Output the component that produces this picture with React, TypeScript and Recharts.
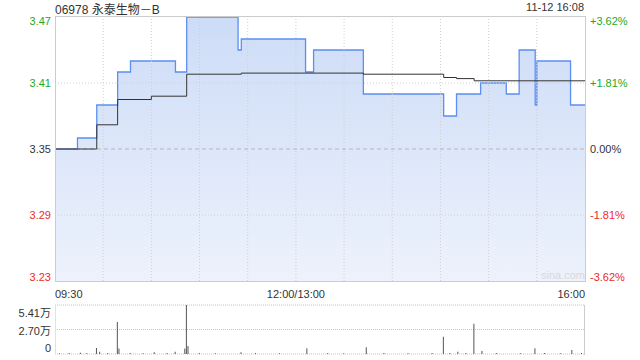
import React from "react";
import { ComposedChart, Area, Line, Bar, XAxis, YAxis, ReferenceLine, CartesianGrid } from "recharts";

// minutes since 09:30 (lunch removed), 330 = 16:00
const priceMinutes = [0, 14, 26, 39, 47, 75, 82, 114, 116, 156, 161, 192, 242, 250, 265, 281, 289, 299, 300, 321, 330];
const prices = [3.35, 3.36, 3.39, 3.42, 3.43, 3.42, 3.47, 3.44, 3.45, 3.42, 3.44, 3.40, 3.38, 3.40, 3.41, 3.40, 3.44, 3.39, 3.43, 3.39, 3.39];

const avgMinutes = [0, 26, 39, 60, 82, 116, 192, 242, 250, 261, 330];
const avgPrices = [3.35, 3.372, 3.395, 3.398, 3.418, 3.419, 3.418, 3.415, 3.414, 3.412, 3.412];

// volume in 万
const volMinutes = [3, 9, 16, 20, 26, 28, 33, 39, 40, 47, 55, 62, 70, 75, 81, 82, 83, 90, 100, 116, 125, 140, 157, 170, 180, 194, 205, 220, 235, 242, 246, 251, 256, 261, 266, 275, 290, 299, 305, 315, 322, 328];
const volValues = [0.08, 0.1, 0.15, 0.08, 0.66, 0.25, 0.1, 3.53, 0.6, 0.1, 0.08, 0.2, 0.1, 0.25, 0.6, 5.41, 0.88, 0.1, 0.08, 0.2, 0.1, 0.08, 0.63, 0.1, 0.08, 0.75, 0.1, 0.08, 0.1, 1.91, 0.1, 0.25, 0.1, 3.35, 0.33, 0.1, 0.08, 0.63, 0.1, 0.08, 0.44, 0.1];

const priceTicks = [3.23, 3.29, 3.35, 3.41, 3.47];
const pctLabels = ["-3.62%", "-1.81%", "0.00%", "+1.81%", "+3.62%"];
const timeTicks = [0, 150, 330];
const timeLabels = ["09:30", "12:00/13:00", "16:00"];
const gridMinutes = [30, 60, 90, 120, 150, 180, 210, 240, 270, 300];
const volTicks = [0, 2.7, 5.41];
const volLabels = ["0", "2.70万", "5.41万"];

const prevClose = 3.35;
const FONT = "Arial, 'Liberation Sans', 'Noto Sans CJK SC', sans-serif";
const GREEN = "#1ea81e";
const RED = "#ee2a2a";

const priceData = priceMinutes.map((m, i) => ({ m, p: prices[i] }));
const avgData = avgMinutes.map((m, i) => ({ m, a: avgPrices[i] }));
const volData = volMinutes.map((m, i) => ({ m, v: volValues[i] }));

const colorFor = (v: number) => (v > prevClose ? GREEN : v < prevClose ? RED : "#333");
const clampDy = (v: number, lo: number, hi: number) => (v === hi ? 4 : v === lo ? -4 : 0);

function PriceTick({ x, y, payload }: any) {
  const v = payload.value;
  return (
    <text x={x} y={y + clampDy(v, 3.23, 3.47)} dy={4} textAnchor="end" fontSize={11} fill={colorFor(v)} fontFamily={FONT}>
      {v.toFixed(2)}
    </text>
  );
}

function PctTick({ x, y, payload }: any) {
  const v = payload.value;
  const idx = priceTicks.indexOf(v);
  return (
    <text x={x} y={y + clampDy(v, 3.23, 3.47)} dy={4} textAnchor="start" fontSize={11} fill={colorFor(v)} fontFamily={FONT}>
      {pctLabels[idx]}
    </text>
  );
}

function TimeTick({ x, y, payload }: any) {
  const idx = timeTicks.indexOf(payload.value);
  const anchor = idx === 0 ? "start" : idx === timeTicks.length - 1 ? "end" : "middle";
  return (
    <text x={x} y={y + 9} textAnchor={anchor} fontSize={11} fill="#333" fontFamily={FONT}>
      {timeLabels[idx]}
    </text>
  );
}

function VolTick({ x, y, payload }: any) {
  const idx = volTicks.indexOf(payload.value);
  const dy = idx === 0 ? -6 : idx === volTicks.length - 1 ? 8 : 1;
  return (
    <text x={x} y={y + dy} dy={4} textAnchor="end" fontSize={11} fill="#333" fontFamily={FONT}>
      {volLabels[idx]}
    </text>
  );
}

export default function App() {
  return (
    <div style={{ position: "absolute", left: 0, top: 0, width: 640, height: 360, background: "#fff", fontFamily: FONT }}>
      <div style={{ position: "absolute", left: 55, top: 0, fontSize: 12, color: "#333" }}>06978 永泰生物－B</div>
      <div style={{ position: "absolute", right: 56, top: 1, fontSize: 11, color: "#333" }}>11-12 16:08</div>

      <div style={{ position: "absolute", left: 0, top: 0 }}>
        <ComposedChart width={640} height={305} margin={{ top: 17, right: 0, left: 0, bottom: 0 }}>
          <defs>
            <linearGradient id="priceFill" x1="0" y1="0" x2="0" y2="1">
              <stop offset="0%" stopColor="#cddcf7" />
              <stop offset="100%" stopColor="#edf2fc" />
            </linearGradient>
          </defs>
          <XAxis dataKey="m" type="number" domain={[0, 330]} ticks={timeTicks} tick={<TimeTick />} tickLine={false} axisLine={false} height={24} allowDuplicatedCategory={false} />
          <YAxis yAxisId="p" domain={[3.23, 3.47]} ticks={priceTicks} tick={<PriceTick />} tickLine={false} axisLine={false} tickSize={0} tickMargin={4} width={55} allowDataOverflow />
          <YAxis yAxisId="pct" orientation="right" domain={[3.23, 3.47]} ticks={priceTicks} tick={<PctTick />} tickLine={false} axisLine={false} tickSize={0} tickMargin={5} width={55} allowDataOverflow />
          {gridMinutes.map((m) => (
            <ReferenceLine key={m} yAxisId="p" x={m} stroke="#cfcfcf" strokeDasharray="1 2" />
          ))}
          <ReferenceLine yAxisId="p" y={3.41} stroke="#cfcfcf" strokeDasharray="1 2" />
          <ReferenceLine yAxisId="p" y={3.29} stroke="#cfcfcf" strokeDasharray="1 2" />
          <Area yAxisId="p" data={priceData} dataKey="p" type="stepAfter" stroke="#5b8ff0" strokeWidth={1.3} fill="url(#priceFill)" fillOpacity={1} isAnimationActive={false} dot={false} activeDot={false} />
          <ReferenceLine yAxisId="p" y={3.35} stroke="#b5b5b5" strokeDasharray="4 3" />
          <Line yAxisId="p" data={avgData} dataKey="a" type="stepAfter" stroke="#333" strokeWidth={1} dot={false} activeDot={false} isAnimationActive={false} />
        </ComposedChart>
      </div>
      <div style={{ position: "absolute", left: 55, top: 16, width: 529, height: 264, border: "1px solid #cccccc", pointerEvents: "none" }} />
      <div style={{ position: "absolute", left: 541, top: 269, fontSize: 11, color: "#d8d8d8" }}>sina.com</div>

      <div style={{ position: "absolute", left: 0, top: 300 }}>
        <ComposedChart width={640} height={60} data={volData} margin={{ top: 5, right: 55, left: 0, bottom: 6 }}>
          <CartesianGrid vertical={false} stroke="#c4c4c4" strokeDasharray="1 1" />
          <XAxis dataKey="m" type="number" domain={[0, 330]} hide />
          <YAxis domain={[0, 5.41]} ticks={volTicks} interval={0} tick={<VolTick />} tickLine={false} axisLine={false} tickSize={0} tickMargin={4} width={55} allowDataOverflow />
          <Bar dataKey="v" fill="#555" barSize={1} isAnimationActive={false} />
        </ComposedChart>
      </div>
      <div style={{ position: "absolute", left: 55, top: 305, width: 1, height: 49, background: "#e2e2e2" }} />
      <div style={{ position: "absolute", left: 584, top: 305, width: 1, height: 50, background: "#cccccc" }} />
    </div>
  );
}
